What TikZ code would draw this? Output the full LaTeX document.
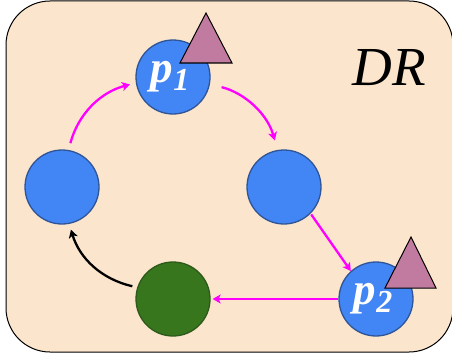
\documentclass[tikz,border=0pt]{standalone}
\usepackage{fontspec}
\setmainfont{Liberation Serif}
\usetikzlibrary{arrows.meta}
\definecolor{bgpeach}{HTML}{FCE5CD}
\definecolor{nodeblue}{HTML}{4285F4}
\definecolor{blueedge}{HTML}{2F5597}
\definecolor{nodegreen}{HTML}{38761D}
\definecolor{greenedge}{HTML}{2D5A1A}
\definecolor{trifill}{HTML}{C27BA0}
\definecolor{mag}{HTML}{FF00FF}
\tikzset{
  circbase/.style={circle, minimum size=74pt, inner sep=0pt, line width=1.3pt},
  bluecirc/.style={circbase, fill=nodeblue, draw=blueedge},
  greencirc/.style={circbase, fill=nodegreen, draw=greenedge},
  tristyle/.style={fill=trifill, draw=black, line width=1pt, line join=miter},
  magarrow/.style={draw=mag, line width=2.3pt, -{Stealth[length=8pt,width=9pt,inset=2pt]}},
  blkarrow/.style={draw=black, line width=2.3pt, -{Stealth[length=8pt,width=9pt,inset=2pt]}},
  plabel/.style={text=white, font=\bfseries\itshape\fontsize{45}{45}\selectfont}
}
\begin{document}
\begin{tikzpicture}[x=1pt,y=-1pt]
\useasboundingbox (0,0) rectangle (452,361);
\draw[fill=bgpeach, line width=1pt, rounded corners=44pt] (6,1) rectangle (453,352);
\node[font=\itshape\fontsize{55}{55}\selectfont, anchor=base] (dr) at (389,85) {DR};
\node[bluecirc] (p1) at (173,77) {};
\node[bluecirc] (L) at (62,187) {};
\node[bluecirc] (R) at (284,187) {};
\node[bluecirc] (p2) at (376,299) {};
\node[greencirc] (G) at (173,299) {};
\node[plabel, anchor=base] (t1) at (170,82) {p\raisebox{-8pt}{\fontsize{32}{32}\selectfont 1}};
\node[plabel, anchor=base] (t2) at (373,304) {p\raisebox{-8pt}{\fontsize{32}{32}\selectfont 2}};
\draw[tristyle] (206,13) -- (232,63) -- (180,63) -- cycle;
\draw[tristyle] (411,237) -- (436,288) -- (385,288) -- cycle;
\draw[magarrow, shorten <=7pt, shorten >=6pt] (L.80) to[bend left=30] (p1.189);
\draw[magarrow, shorten <=12pt, shorten >=10pt] (p1.-11) to[bend left=30] (R.100);
\draw[magarrow, shorten <=1pt] (R.-45) -- (p2.132);
\draw[magarrow, shorten >=2pt] (p2.west) -- (G.east);
\draw[blkarrow, shorten <=5pt, shorten >=6pt] (G.162) to[bend left=30] (L.-79);
\end{tikzpicture}
\end{document}
